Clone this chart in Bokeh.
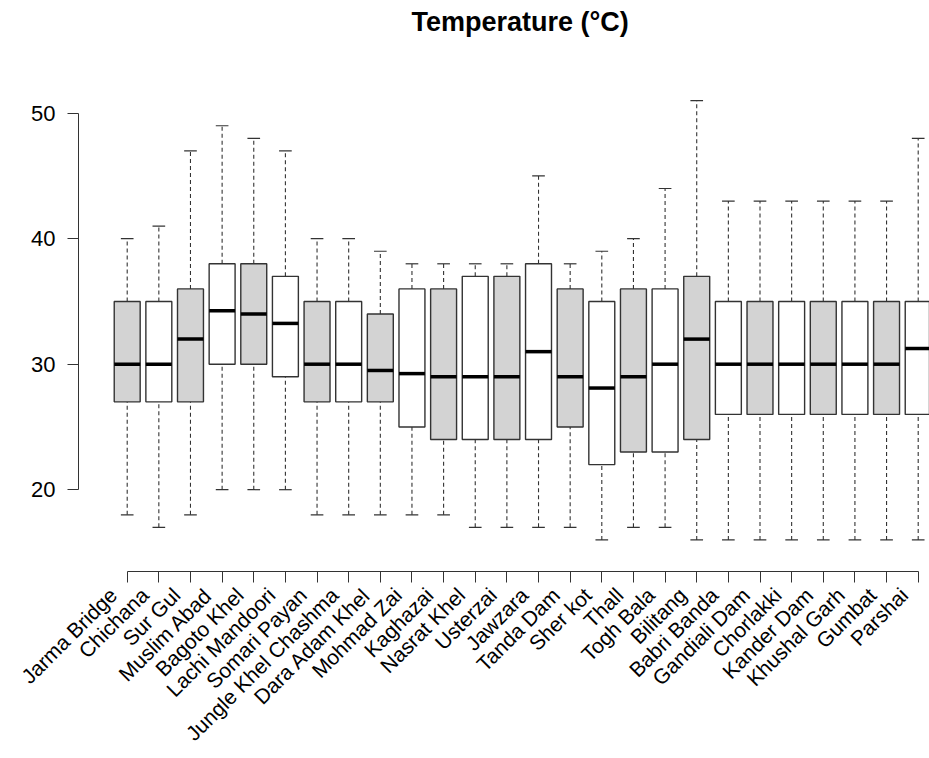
import math
from bokeh.plotting import figure
from bokeh.models import Range1d, LinearAxis, FixedTicker, ColumnDataSource
from bokeh.transform import dodge
from bokeh.embed import file_html
from bokeh.resources import INLINE

# ---------------- data ----------------
sites = ["Jarma Bridge", "Chichana", "Sur Gul", "Muslim Abad", "Bagoto Khel",
         "Lachi Mandoori", "Somari Payan", "Jungle Khel Chashma", "Dara Adam Khel",
         "Mohmad Zai", "Kaghazai", "Nasrat Khel", "Usterzai", "Jawzara", "Tanda Dam",
         "Sher kot", "Thall", "Togh Bala", "Bilitang", "Babri Banda", "Gandiali Dam",
         "Chorlakki", "Kander Dam", "Khushal Garh", "Gumbat", "Parshai"]
upper_whisker = [40, 41, 47, 49, 48, 47, 40, 40, 39, 38, 38, 38, 38, 45, 38, 39,
                 40, 44, 51, 43, 43, 43, 43, 43, 43, 48]
q3 = [35, 35, 36, 38, 38, 37, 35, 35, 34, 36, 36, 37, 37, 38, 36, 35,
      36, 36, 37, 35, 35, 35, 35, 35, 35, 35]
median = [30, 30, 32, 34.25, 34, 33.25, 30, 30, 29.5, 29.25, 29, 29, 29, 31, 29, 28.1,
          29, 30, 32, 30, 30, 30, 30, 30, 30, 31.25]
q1 = [27, 27, 27, 30, 30, 29, 27, 27, 27, 25, 24, 24, 24, 24, 25, 22,
      23, 23, 24, 26, 26, 26, 26, 26, 26, 26]
lower_whisker = [18, 17, 18, 20, 20, 20, 18, 18, 18, 18, 18, 17, 17, 17, 17, 16,
                 17, 17, 16, 16, 16, 16, 16, 16, 16, 16]
y_ticks = [20, 30, 40, 50]
title_text = "Temperature (°C)"

# ---------------- layout ----------------
n = len(sites)
pos = list(range(1, n + 1))
fills = ["#D3D3D3" if i % 2 == 0 else "#FFFFFF" for i in range(n)]

W, H = 929, 758
B_LEFT, B_RIGHT, B_TOP, B_BOTTOM = 78, 0, 38, 187
px_x = 31.64                       # pixels per category
x_start = 1 - 48.7 / px_x
x_end = x_start + (W - B_LEFT - B_RIGHT) / px_x
px_y = 12.55                       # pixels per degree
y50 = 112.7                        # canvas row of the value 50
y_end = 50 + (y50 - B_TOP) / px_y
y_start = 50 - ((H - B_BOTTOM) - y50) / px_y

p = figure(width=W, height=H, output_backend="svg", toolbar_location=None,
           x_range=Range1d(x_start, x_end), y_range=Range1d(y_start, y_end),
           x_axis_location=None, y_axis_location=None,
           min_border_left=B_LEFT, min_border_right=B_RIGHT,
           min_border_top=B_TOP, min_border_bottom=B_BOTTOM,
           title=title_text)
p.outline_line_color = None
p.grid.grid_line_color = None
p.background_fill_color = "white"
p.border_fill_color = "white"

p.title.text_font = "Liberation Sans"
p.title.text_font_style = "bold"
p.title.text_font_size = "27px"
p.title.text_color = "black"
p.title.align = "left"
p.title.offset = 333
p.title.standoff = 4

src = ColumnDataSource(dict(x=pos, up=upper_whisker, q3=q3, med=median, q1=q1,
                            lo=lower_whisker, fill=fills))

line_col = "#333333"
# whiskers
p.segment(x0="x", y0="q3", x1="x", y1="up", source=src, line_color=line_col,
          line_width=1.1, line_dash="4 3")
p.segment(x0="x", y0="lo", x1="x", y1="q1", source=src, line_color=line_col,
          line_width=1.1, line_dash="4 3")
# caps
p.segment(x0=dodge("x", -0.2), y0="up", x1=dodge("x", 0.2), y1="up", source=src,
          line_color=line_col, line_width=1.2)
p.segment(x0=dodge("x", -0.2), y0="lo", x1=dodge("x", 0.2), y1="lo", source=src,
          line_color=line_col, line_width=1.2)
# boxes
p.vbar(x="x", width=0.82, top="q3", bottom="q1", source=src, fill_color="fill",
       line_color=line_col, line_width=1.4)
# medians
p.segment(x0=dodge("x", -0.41), y0="med", x1=dodge("x", 0.41), y1="med", source=src,
          line_color="black", line_width=3.5)

# y axis
yaxis = LinearAxis(ticker=FixedTicker(ticks=y_ticks), bounds=(20, 50))
yaxis.major_tick_out = 11
yaxis.major_tick_in = 0
yaxis.minor_tick_line_color = None
yaxis.axis_line_color = line_col
yaxis.major_tick_line_color = line_col
yaxis.major_label_text_font = "Liberation Sans"
yaxis.major_label_text_font_size = "22px"
yaxis.major_label_text_color = "black"
yaxis.major_label_standoff = 12
p.add_layout(yaxis, "left")

# x axis: line and tick marks only
xaxis = LinearAxis(ticker=FixedTicker(ticks=pos), bounds=(1, n))
xaxis.major_tick_out = 11
xaxis.major_tick_in = 0
xaxis.minor_tick_line_color = None
xaxis.axis_line_color = line_col
xaxis.major_tick_line_color = line_col
xaxis.major_label_text_color = None
xaxis.major_label_text_font_size = "1px"
xaxis.major_label_standoff = 0
p.add_layout(xaxis, "below")

# x axis: rotated category labels, shifted slightly left like R's text(srt=45, adj=1)
shift = 14 / px_x
p.extra_x_ranges = {"labels": Range1d(x_start + shift, x_end + shift)}
xlab = LinearAxis(x_range_name="labels", ticker=FixedTicker(ticks=pos))
xlab.major_label_overrides = {i: s for i, s in zip(pos, sites)}
xlab.axis_line_color = None
xlab.major_tick_line_color = None
xlab.minor_tick_line_color = None
xlab.major_tick_out = 0
xlab.major_tick_in = 0
xlab.major_label_orientation = math.pi / 4
xlab.major_label_text_font = "Liberation Sans"
xlab.major_label_text_font_size = "21px"
xlab.major_label_text_color = "black"
xlab.major_label_standoff = 9
p.add_layout(xlab, "below")

open("out.html", "w").write(file_html(p, INLINE))
